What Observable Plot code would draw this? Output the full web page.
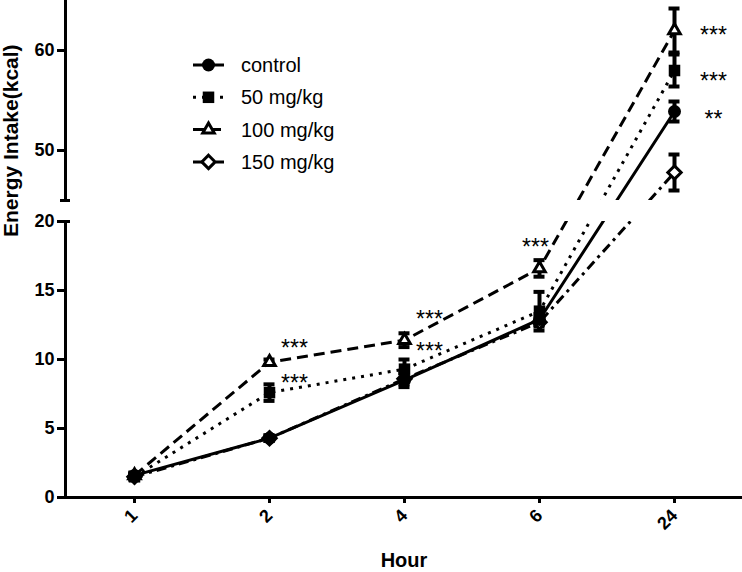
<!DOCTYPE html>
<html><head><meta charset="utf-8">
<script src="https://cdn.jsdelivr.net/npm/d3@7"></script>
<script src="https://cdn.jsdelivr.net/npm/@observablehq/plot@0.6"></script>
<style>
body{margin:0;background:#fff;}
#chart{position:relative;width:742px;height:572px;font-family:"Liberation Sans",Arial,sans-serif;}
#chart svg{position:absolute;left:0;top:0;}
</style></head><body><div id="chart"></div>
<script>
// ---- data ----
const hours = ["1", "2", "4", "6", "24"];
const seriesNames = ["control", "50 mg/kg", "100 mg/kg", "150 mg/kg"];
const controlMean = [1.6, 4.3, 8.5, 12.9, 53.9];
const controlSem  = [0.2, 0.2, 0.5, 0.4, 1.0];
const mg50Mean    = [1.5, 7.6, 9.3, 13.5, 58.0];
const mg50Sem     = [0.2, 0.6, 0.7, 1.4, 1.6];
const mg100Mean   = [1.6, 9.8, 11.4, 16.6, 62.0];
const mg100Sem    = [0.2, 0.2, 0.5, 0.6, 2.2];
const mg150Mean   = [1.5, 4.3, 8.6, 12.7, 47.8];
const mg150Sem    = [0.2, 0.2, 0.4, 0.3, 1.8];
const yTicks = [0, 5, 10, 15, 20, 50, 60];
const yBreak = [20, 45];
const sigHour  = ["2", "2", "4", "4", "6", "24", "24", "24"];
const sigValue = [11.2, 8.7, 13.3, 11.0, 18.55, 62.1, 57.5, 53.7];
const sigLabel = ["***", "***", "***", "***", "***", "***", "***", "**"];
const yTitle = "Energy Intake(kcal)";
const xTitle = "Hour";

// ---- build tables ----
const means = [controlMean, mg50Mean, mg100Mean, mg150Mean];
const sems = [controlSem, mg50Sem, mg100Sem, mg150Sem];
const rows = seriesNames.flatMap((s, si) => hours.map((h, i) => ({series: s, hour: h, mean: means[si][i], sem: sems[si][i]})));
const sig = sigHour.map((h, i) => ({hour: h, value: sigValue[i], label: sigLabel[i]}));

const style = {
  "control":   {dash: null, symbol: "circle", r: 6.5, fill: "black", sw: 0},
  "50 mg/kg":  {dash: "3,6", symbol: "square", r: 6.5, fill: "black", sw: 0},
  "100 mg/kg": {dash: "11,6", symbol: "triangle2", r: 5.5, fill: "white", sw: 3},
  "150 mg/kg": {dash: "10,5,3,5", symbol: "diamond2", r: 6, fill: "white", sw: 3}
};
const bySeries = s => rows.filter(d => d.series === s);

const marks = [];
marks.push(Plot.ruleY([0], {strokeWidth: 3}));
marks.push(Plot.frame({anchor: "left", strokeWidth: 3}));
for (const s of seriesNames) {
  marks.push(Plot.line(bySeries(s), {x: "hour", y: "mean", stroke: "black", strokeWidth: 3,
    strokeDasharray: style[s].dash, strokeLinecap: "butt"}));
}
// axis break gap
marks.push(Plot.rect([yBreak], {y1: d => d[0], y2: d => d[1], fill: "white", insetLeft: -4}));
marks.push(Plot.axisY({ticks: yBreak, tickSize: -5, tickFormat: () => "", strokeWidth: 3, label: null}));
marks.push(Plot.axisY({ticks: [yBreak[1]], tickSize: 5, tickFormat: () => "", strokeWidth: 3, label: null}));
// error bars
marks.push(Plot.ruleX(rows, {x: "hour", y1: d => d.mean - d.sem, y2: d => d.mean + d.sem, strokeWidth: 4}));
marks.push(Plot.ruleY(rows, {y: d => d.mean - d.sem, x1: "hour", x2: "hour", insetLeft: -5.5, insetRight: -5.5, strokeWidth: 4}));
marks.push(Plot.ruleY(rows, {y: d => d.mean + d.sem, x1: "hour", x2: "hour", insetLeft: -5.5, insetRight: -5.5, strokeWidth: 4}));
// markers
for (const s of ["150 mg/kg", "100 mg/kg", "50 mg/kg", "control"]) {
  const st = style[s];
  marks.push(Plot.dot(bySeries(s), {x: "hour", y: "mean", symbol: st.symbol, r: st.r, fill: st.fill,
    stroke: "black", strokeWidth: st.sw}));
}
// significance
const sigText = {fontSize: 23, fill: "black", textAnchor: "middle", dy: 6};
marks.push(Plot.text(sig.filter(d => d.hour === "2" || d.hour === "4"), {x: "hour", y: "value", text: "label", dx: 25, ...sigText}));
marks.push(Plot.text(sig.filter(d => d.hour === "6"), {x: "hour", y: "value", text: "label", dx: -4, ...sigText}));
marks.push(Plot.text(sig.filter(d => d.hour === "24"), {x: "hour", y: "value", text: "label", dx: 39, ...sigText}));
// axes
marks.push(Plot.axisY({ticks: yTicks, tickSize: 8, tickPadding: 3, fontSize: 18, fontWeight: "bold", strokeWidth: 3, label: null}));
marks.push(Plot.axisX({tickRotate: -45, tickSize: 6, tickPadding: 9, fontSize: 18, fontWeight: "bold", strokeWidth: 3, label: null}));
marks.push(Plot.text([xTitle], {frameAnchor: "bottom", dy: 69, fontSize: 20, fontWeight: "bold", fill: "black"}));
marks.push(Plot.text([yTitle], {frameAnchor: "left", rotate: -90, dx: -54, dy: -12, fontSize: 21, fontWeight: "bold", fill: "black"}));

const chart = Plot.plot({
  width: 742, height: 572,
  marginLeft: 65, marginRight: 0, marginTop: 0, marginBottom: 75,
  style: {background: "white", color: "black", fontFamily: "'Liberation Sans', Arial, sans-serif", overflow: "visible"},
  x: {type: "point", domain: hours, padding: 0.5, axis: null},
  y: {type: "linear", domain: [0, 20, 45, 65], range: [497, 221, 200, 0], axis: null},
  marks
});
document.getElementById("chart").appendChild(chart);

// ---- legend ----
const leg = d3.select("#chart").append("svg").attr("width", 742).attr("height", 572)
  .style("pointer-events", "none").style("font-family", "'Liberation Sans', Arial, sans-serif");
const symMap = {circle: d3.symbolCircle, square: d3.symbolSquare, triangle2: d3.symbolTriangle2, diamond2: d3.symbolDiamond2};
seriesNames.forEach((s, i) => {
  const st = style[s];
  const g = leg.append("g").attr("transform", `translate(0,${65 + i * 32.3})`);
  g.append("line").attr("x1", 193).attr("x2", 224).attr("y1", 0).attr("y2", 0)
    .attr("stroke", "black").attr("stroke-width", 3).attr("stroke-dasharray", st.dash);
  g.append("path").attr("transform", "translate(208.5,0)")
    .attr("d", d3.symbol(symMap[st.symbol], Math.PI * st.r * st.r)())
    .attr("fill", st.fill).attr("stroke", "black").attr("stroke-width", st.sw);
  g.append("text").attr("x", 241).attr("y", 0).attr("dy", "0.35em").attr("font-size", 20).text(s);
});
</script></body></html>
